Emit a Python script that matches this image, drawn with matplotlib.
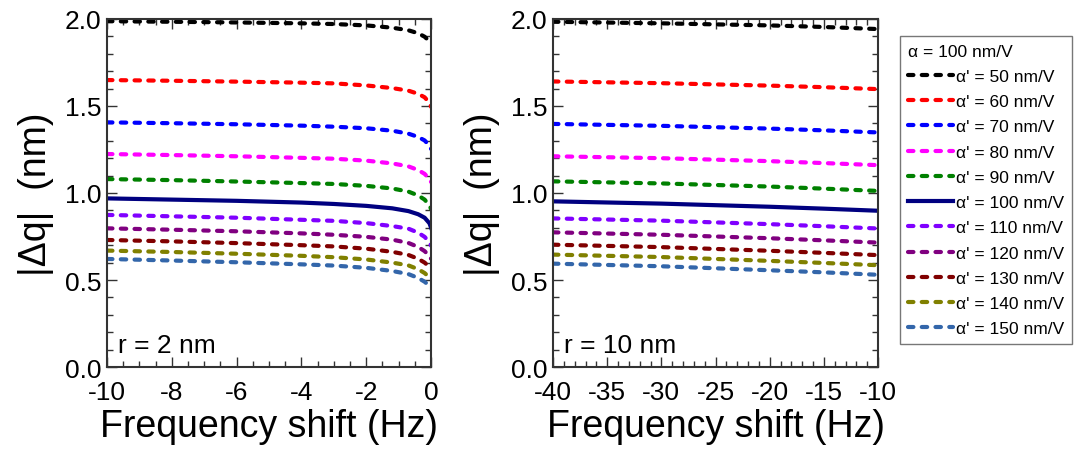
import matplotlib
matplotlib.use('Agg')
import matplotlib.pyplot as plt
from matplotlib.ticker import MultipleLocator

plt.rcParams['font.family'] = ['Liberation Sans', 'DejaVu Sans']
plt.rcParams['axes.unicode_minus'] = False

labels = ["α' = 50 nm/V", "α' = 60 nm/V", "α' = 70 nm/V", "α' = 80 nm/V",
          "α' = 90 nm/V", "α' = 100 nm/V", "α' = 110 nm/V", "α' = 120 nm/V",
          "α' = 130 nm/V", "α' = 140 nm/V", "α' = 150 nm/V"]
colors = ['#000000', '#FF0000', '#0000FF', '#FF00FF', '#008000', '#000080',
          '#8000FF', '#800080', '#800000', '#808000', '#3366AA']

# r = 2 nm
f_left = [-10, -8, -6, -4, -3, -2, -1.2, -0.7, -0.4, -0.2, -0.05, 0]
dq_left = [
    [1.987, 1.984, 1.980, 1.975, 1.971, 1.963, 1.950, 1.935, 1.918, 1.898, 1.872, 1.855],
    [1.649, 1.645, 1.640, 1.634, 1.630, 1.618, 1.603, 1.588, 1.570, 1.550, 1.518, 1.495],
    [1.406, 1.401, 1.395, 1.387, 1.381, 1.372, 1.358, 1.341, 1.322, 1.302, 1.272, 1.253],
    [1.224, 1.218, 1.211, 1.202, 1.197, 1.186, 1.170, 1.153, 1.132, 1.110, 1.080, 1.063],
    [1.080, 1.074, 1.066, 1.057, 1.052, 1.041, 1.026, 1.008, 0.986, 0.962, 0.928, 0.908],
    [0.969, 0.962, 0.955, 0.945, 0.937, 0.926, 0.912, 0.896, 0.878, 0.858, 0.826, 0.800],
    [0.874, 0.866, 0.858, 0.846, 0.840, 0.827, 0.810, 0.795, 0.772, 0.748, 0.716, 0.697],
    [0.797, 0.789, 0.780, 0.768, 0.760, 0.748, 0.732, 0.713, 0.690, 0.666, 0.638, 0.622],
    [0.730, 0.722, 0.712, 0.700, 0.693, 0.680, 0.662, 0.644, 0.622, 0.600, 0.575, 0.558],
    [0.669, 0.661, 0.651, 0.639, 0.631, 0.618, 0.600, 0.584, 0.562, 0.540, 0.515, 0.500],
    [0.621, 0.612, 0.602, 0.590, 0.583, 0.570, 0.552, 0.534, 0.512, 0.490, 0.466, 0.452],
]

# r = 10 nm
f_right = [-40, -30, -20, -15, -10]
dq_right = [
    [1.984, 1.975, 1.963, 1.954, 1.942],
    [1.641, 1.631, 1.617, 1.608, 1.597],
    [1.397, 1.386, 1.370, 1.360, 1.348],
    [1.211, 1.200, 1.183, 1.172, 1.160],
    [1.067, 1.055, 1.037, 1.025, 1.012],
    [0.952, 0.939, 0.921, 0.910, 0.898],
    [0.854, 0.841, 0.821, 0.809, 0.796],
    [0.774, 0.760, 0.740, 0.728, 0.715],
    [0.703, 0.689, 0.668, 0.656, 0.643],
    [0.646, 0.632, 0.610, 0.598, 0.585],
    [0.594, 0.579, 0.556, 0.544, 0.530],
]

fig = plt.figure(figsize=(10.78, 4.52), dpi=100)
ax1 = fig.add_axes([0.0993, 0.1858, 0.3006, 0.770])
ax2 = fig.add_axes([0.513, 0.1858, 0.3015, 0.770])


def draw(ax, f, dq, xlim, xmaj, xmin, note):
    for i in range(len(dq)):
        if labels[i] == "α' = 100 nm/V":
            ax.plot(f, dq[i], color=colors[i], lw=3, label=labels[i])
        else:
            ax.plot(f, dq[i], color=colors[i], lw=3, dashes=(1.3, 2.0),
                    dash_capstyle='round', label=labels[i])
    ax.set_xlim(*xlim)
    ax.set_ylim(0, 2.0)
    ax.xaxis.set_major_locator(MultipleLocator(xmaj))
    ax.xaxis.set_minor_locator(MultipleLocator(xmin))
    ax.yaxis.set_major_locator(MultipleLocator(0.5))
    ax.yaxis.set_minor_locator(MultipleLocator(0.1))
    ax.tick_params(which='both', direction='in', top=True, right=True,
                   width=1, color='#333333')
    ax.tick_params(which='major', length=7, labelsize=19)
    ax.tick_params(axis='x', which='major', pad=9)
    ax.tick_params(axis='y', which='major', pad=4)
    ax.tick_params(which='minor', length=4)
    for s in ax.spines.values():
        s.set_linewidth(1.5)
        s.set_color('#333333')
    ax.set_xlabel('Frequency shift (Hz)', fontsize=27, labelpad=3)
    ax.set_ylabel('|Δq|  (nm)', fontsize=27, labelpad=8)
    ax.text(0.035, 0.063, note, transform=ax.transAxes, fontsize=19, va='center')


draw(ax1, f_left, dq_left, (-10, 0), 2, 0.5, 'r = 2 nm')
draw(ax2, f_right, dq_right, (-40, -10), 5, 1, 'r = 10 nm')

h, l = ax1.get_legend_handles_labels()
leg = fig.legend(h, l, loc='upper left', bbox_to_anchor=(900 / 1078, 1 - 37 / 452),
                 title='α = 100 nm/V', title_fontsize=12.5, alignment='left',
                 fontsize=12.5, handlelength=2.6, handletextpad=0.15,
                 labelspacing=0.58, borderaxespad=0, borderpad=0.45,
                 fancybox=False, frameon=True)
leg.get_frame().set_edgecolor('#555555')
leg.get_frame().set_linewidth(1.0)

fig.savefig('out.png', dpi=100)
